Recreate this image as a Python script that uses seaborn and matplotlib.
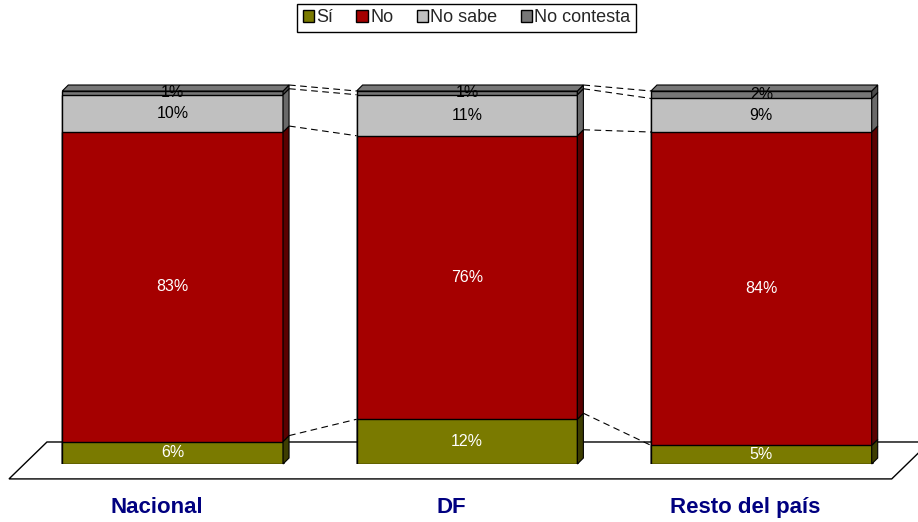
import numpy as np
import pandas as pd
import matplotlib
matplotlib.use('Agg')
import matplotlib.pyplot as plt
import seaborn as sns
from matplotlib.patches import Polygon, Patch
from matplotlib.transforms import ScaledTranslation

# Data
regions = ['Nacional', 'DF', 'Resto del país']
series = ['Sí', 'No', 'No sabe', 'No contesta']
si = [6, 12, 5]
no = [83, 76, 84]
no_sabe = [10, 11, 9]
no_contesta = [1, 1, 2]

face_colors = ['#7a7a00', '#a50000', '#c0c0c0', '#777777']
side_colors = ['#3d3d00', '#5a0000', '#6a6a6a', '#4a4a4a']
text_colors = ['white', 'white', 'black', 'black']

sns.set_theme(style='white')
plt.rcParams['font.family'] = ['Liberation Sans', 'DejaVu Sans']

fig = plt.figure(figsize=(9.18, 5.22), dpi=100)
ax = fig.add_axes([25.5 / 918, 58 / 522, 883 / 918, 373 / 522])

values = np.array([si, no, no_sabe, no_contesta], dtype=float)
cum = np.cumsum(values, axis=0)
df = pd.DataFrame({'Region': regions})

# stacked bars: draw cumulative totals from the top layer down
for k in range(len(series) - 1, -1, -1):
    df['cum'] = cum[k]
    sns.barplot(data=df, x='Region', y='cum', color=face_colors[k], saturation=1,
                width=0.75, edgecolor='black', linewidth=1, errorbar=None,
                ax=ax, zorder=3)

ax.set_xlim(-0.5, 2.5)
ax.set_ylim(0, 100)

# 3D depth, converted from pixels to data units
depth_px = 6
ax_w = 883
ax_h = 373
DX = depth_px * 3 / ax_w
DY = depth_px * 100 / ax_h
half = 0.375

for i in range(len(regions)):
    x0, x1 = i - half, i + half
    for k in range(len(series)):
        lo = cum[k, i] - values[k, i]
        hi = cum[k, i]
        side = Polygon([(x1, lo), (x1 + DX, lo + DY), (x1 + DX, hi + DY), (x1, hi)],
                       closed=True, facecolor=side_colors[k], edgecolor='black',
                       linewidth=0.8, zorder=3, clip_on=False)
        ax.add_patch(side)
        ax.text(i, lo + values[k, i] / 2, f'{values[k, i]:.0f}%', ha='center',
                va='center', color=text_colors[k], fontsize=11.5, zorder=5)
    top = Polygon([(x0, 100), (x0 + DX, 100 + DY), (x1 + DX, 100 + DY), (x1, 100)],
                  closed=True, facecolor=face_colors[3], edgecolor='black',
                  linewidth=0.8, zorder=3, clip_on=False)
    ax.add_patch(top)

# series lines between bars
for k in range(len(series)):
    for i in range(len(regions) - 1):
        ax.plot([i + half + DX, i + 1 - half], [cum[k, i] + DY, cum[k, i + 1]],
                ls=(0, (6, 4)), color='black', lw=0.8, zorder=2, clip_on=False)

# floor
floor = Polygon([(-0.0187, -0.040), (0.981, -0.040), (1.024, 0.059), (0.0243, 0.059)],
                closed=True, facecolor='white', edgecolor='black', linewidth=1,
                transform=ax.transAxes, clip_on=False, zorder=1)
ax.add_patch(floor)

ax.set_xlabel('')
ax.set_ylabel('')
ax.set_yticks([])
sns.despine(ax=ax, left=True, bottom=True)
ax.tick_params(axis='x', length=0, pad=24)
shift = ScaledTranslation(-16 / 100, 0, fig.dpi_scale_trans)
for lab in ax.get_xticklabels():
    lab.set_fontsize(16)
    lab.set_fontweight('bold')
    lab.set_color('#000080')
    lab.set_transform(lab.get_transform() + shift)
ax.patch.set_visible(False)

handles = [Patch(facecolor=c, edgecolor='black', linewidth=1) for c in face_colors]
leg = fig.legend(handles, series, loc='upper center', bbox_to_anchor=(466.5 / 918, 1 - 4 / 522),
                 ncol=4, frameon=True, fancybox=False, edgecolor='black', framealpha=1,
                 fontsize=13, handlelength=0.65, handleheight=0.65, handletextpad=0.1,
                 columnspacing=1.3, borderpad=0.3, borderaxespad=0)
leg.get_frame().set_linewidth(1)

fig.savefig('out.png', dpi=100)
